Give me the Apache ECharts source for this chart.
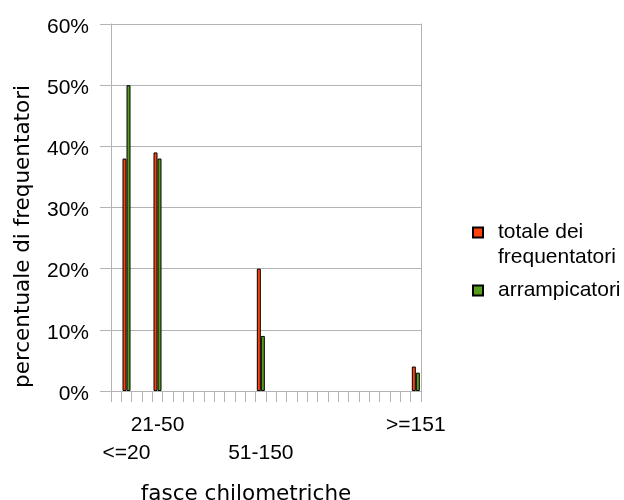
<!DOCTYPE html>
<html>
<head>
<meta charset="utf-8">
<script src="https://cdn.jsdelivr.net/npm/echarts@6/dist/echarts.min.js"></script>
<style>
  html, body { margin: 0; padding: 0; background: #fff; }
  #chart { width: 624px; height: 500px; }
</style>
</head>
<body>
<div id="chart"></div>
<script>
// Distance bands (km) and the share of visitors in each band
const bandLabels = ['<=20', '21-50', '51-150', '>=151'];
// position of each band on a 0-300 km axis divided into 10 km steps
const bandSlots = [1, 4, 14, 29];
const slotCount = 30;
const totaleFrequentatori = [38, 39, 20, 4];
const arrampicatori = [50, 38, 9, 3];
const yTicks = [0, 10, 20, 30, 40, 50, 60];

const seriesNames = ['totale dei frequentatori', 'arrampicatori'];

const slots = [];
for (let i = 0; i < slotCount; i++) slots.push(String((i + 1) * 10));

function spread(values) {
  const out = new Array(slotCount).fill('-');
  bandSlots.forEach((s, k) => { out[s] = values[k]; });
  return out;
}

const FONT = 'Liberation Sans, Arial, sans-serif';
const TITLE_FONT = 'DejaVu Sans, Liberation Sans, sans-serif';
const GRID = '#b3b3b3';

const chart = echarts.init(document.getElementById('chart'), null, { renderer: 'canvas' });
chart.setOption({
  animation: false,
  backgroundColor: '#fff',
  textStyle: { fontFamily: FONT },
  grid: { left: 111, top: 24, width: 310, height: 367, containLabel: false, outerBoundsMode: 'none' },
  legend: {
    orient: 'vertical',
    left: 472,
    top: 195,
    padding: 0,
    itemWidth: 10,
    itemHeight: 10,
    itemGap: 8,
    icon: 'rect',
    selectedMode: false,
    data: seriesNames,
    // two-line entries keep their marker beside the first line
    formatter: name => name.indexOf(' dei ') >= 0 ? '\n' + name.replace(' dei ', ' dei\n') : name,
    textStyle: { fontFamily: FONT, fontSize: 21, color: '#000', lineHeight: 25, padding: [0, 0, 0, 10] }
  },
  xAxis: {
    type: 'category',
    data: slots,
    boundaryGap: true,
    name: 'fasce chilometriche',
    nameLocation: 'middle',
    nameGap: 92,
    nameTextStyle: { fontFamily: TITLE_FONT, fontSize: 21.5, color: '#000', padding: [0, 40, 0, 0] },
    axisLine: { lineStyle: { color: GRID, width: 1 } },
    axisTick: { show: true, length: 11, interval: 0, lineStyle: { color: GRID } },
    axisLabel: {
      interval: 0,
      margin: 20,
      fontFamily: FONT,
      fontSize: 21,
      lineHeight: 28,
      color: '#000',
      formatter: (value, index) => {
        const k = bandSlots.indexOf(index);
        if (k < 0) return '';
        return (k % 2 === 0 ? '\n' : '') + bandLabels[k];
      }
    },
    splitLine: { show: false }
  },
  yAxis: [
    {
      type: 'value',
      min: yTicks[0],
      max: yTicks[yTicks.length - 1],
      interval: 10,
      name: 'percentuale di frequentatori',
      nameLocation: 'middle',
      nameRotate: 90,
      nameGap: 77,
      nameTextStyle: { fontFamily: TITLE_FONT, fontSize: 21.5, color: '#000', padding: [0, 58, 0, 0] },
      axisLine: { show: true, lineStyle: { color: GRID, width: 1 } },
      axisTick: { show: true, length: 11, lineStyle: { color: GRID } },
      axisLabel: {
        margin: 22, fontFamily: FONT, fontSize: 21, color: '#000',
        verticalAlign: 'top', lineHeight: 6,
        formatter: '{value}%'
      },
      splitLine: { show: true, lineStyle: { color: GRID, width: 1 } }
    },
    {
      type: 'value',
      position: 'right',
      min: yTicks[0],
      max: yTicks[yTicks.length - 1],
      interval: 10,
      axisLine: { show: true, lineStyle: { color: GRID, width: 1 } },
      axisTick: { show: false },
      axisLabel: { show: false },
      splitLine: { show: false }
    }
  ],
  series: [
    {
      name: seriesNames[0],
      type: 'bar',
      data: spread(totaleFrequentatori),
      barWidth: 4,
      barGap: '0%',
      itemStyle: { color: '#ff420e', borderColor: '#000', borderWidth: 1 }
    },
    {
      name: seriesNames[1],
      type: 'bar',
      data: spread(arrampicatori),
      barWidth: 4,
      barGap: '0%',
      itemStyle: { color: '#579d1c', borderColor: '#000', borderWidth: 1 }
    }
  ]
});
</script>
</body>
</html>
